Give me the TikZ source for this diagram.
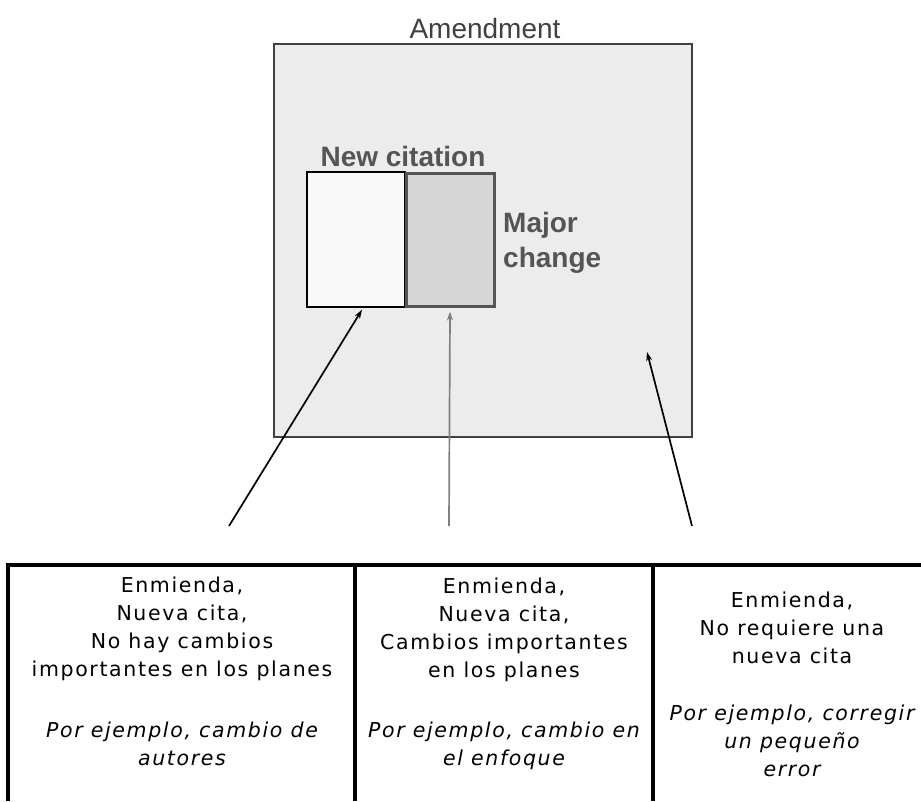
\documentclass[tikz,border=0pt]{standalone}
\usepackage{fontspec}
\setmainfont{Liberation Sans}
\newfontfamily\cellfont[LetterSpace=8]{DejaVu Sans}
\usetikzlibrary{arrows.meta}

\definecolor{boxgray}{HTML}{ECECEC}
\definecolor{edgegray}{HTML}{404040}
\definecolor{majorgray}{HTML}{D6D6D6}
\definecolor{labelgray}{HTML}{555555}

\tikzset{
	cell/.style={anchor=north, align=center, inner sep=0pt, font=\cellfont\fontsize{20.5}{28}\selectfont},
	example/.style={cell, font=\cellfont\itshape\fontsize{20.5}{28}\selectfont},
	pointer/.style={line width=1.7pt, -{Stealth[length=9pt,width=6pt]}}
}

\begin{document}
\begin{tikzpicture}[x=1pt, y=-1pt]

	\useasboundingbox (0,0) rectangle (921,801);

	% outer box
	\node[draw=edgegray, line width=2pt, fill=boxgray, minimum width=418pt, minimum height=393pt, inner sep=0pt] (amend) at (483,240.5) {};
	\node[anchor=base, text=edgegray, font=\fontsize{28}{34}\selectfont] (amendlabel) at (485,38) {Amendment};

	% inner boxes
	\node[draw=black, line width=1.5pt, fill=white!70!boxgray, minimum width=98pt, minimum height=135pt, inner sep=0pt] (newbox) at (356,239.5) {};
	\node[draw=labelgray, line width=3pt, fill=majorgray, minimum width=88pt, minimum height=133pt, inner sep=0pt] (majorbox) at (450,239.5) {};

	% labels
	\node[anchor=base, text=labelgray, font=\bfseries\fontsize{28}{34}\selectfont] (newlabel) at (403,166) {New citation};
	\node[anchor=north west, align=left, inner sep=0pt, text=labelgray, font=\bfseries\fontsize{28}{35}\selectfont] (majorlabel) at (503,212) {Major\\change};

	% table
	\draw[line width=4.5pt] (6,565) -- (921,565);
	\draw[line width=4.5pt] (8,565) -- (8,801);
	\draw[line width=4.5pt] (355,565) -- (355,801);
	\draw[line width=4.5pt] (653,565) -- (653,801);

	% cell texts
	\node[cell] (cellA) at (182,577) {Enmienda,\\Nueva cita,\\No hay cambios\\importantes en los planes};
	\node[example] (exA) at (182,722) {Por ejemplo, cambio de\\autores};
	\node[cell] (cellB) at (504,578) {Enmienda,\\Nueva cita,\\Cambios importantes\\en los planes};
	\node[example] (exB) at (504,722) {Por ejemplo, cambio en\\el enfoque};
	\node[cell] (cellC) at (792,592) {Enmienda,\\No requiere una\\nueva cita};
	\node[example] (exC) at (792,705) {Por ejemplo, corregir\\un peque\~no\\error};

	% arrow ends
	\coordinate (tailA) at (229,526);
	\coordinate (tailB) at (449,526);
	\coordinate (tailC) at (692,526);
	\coordinate (rest) at (647,352);

	%draw arrows
	\draw[pointer] (tailA) -- ([xshift=6pt, yshift=-2pt]newbox.south);
	\draw[pointer, draw=gray] (tailB) -- ([yshift=-4pt]majorbox.south);
	\draw[pointer] (tailC) -- (rest);

\end{tikzpicture}
\end{document}
